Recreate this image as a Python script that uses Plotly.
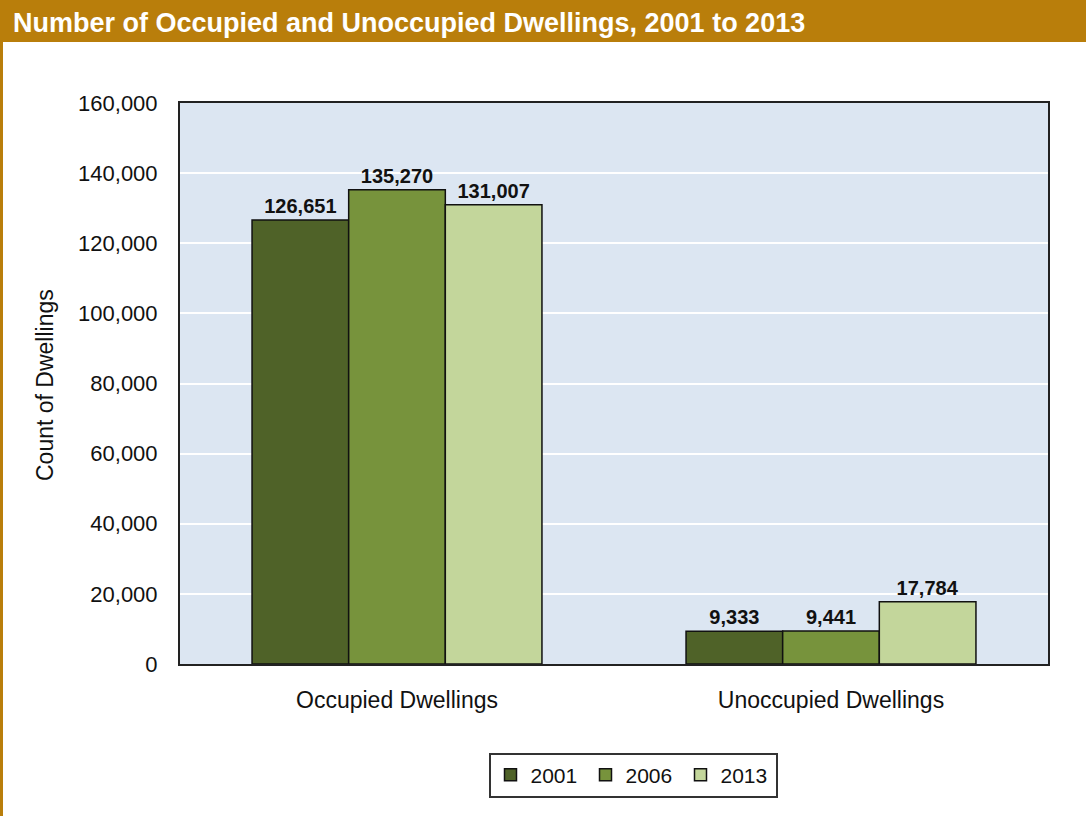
import plotly.graph_objects as go

categories = ["Occupied Dwellings", "Unoccupied Dwellings"]
years = ["2001", "2006", "2013"]
values_2001 = [126651, 9333]
values_2006 = [135270, 9441]
values_2013 = [131007, 17784]
colors = ["#4F6228", "#77933C", "#C3D69B"]
y_ticks = [0, 20000, 40000, 60000, 80000, 100000, 120000, 140000, 160000]

series = [values_2001, values_2006, values_2013]

FONT = "Liberation Sans, Arial, sans-serif"
TXT = "#111111"

fig = go.Figure()
for yr, vals, col in zip(years, series, colors):
    fig.add_trace(go.Bar(
        x=categories, y=vals, name=yr,
        marker=dict(color=col, line=dict(color="#111111", width=1.5)),
        text=[f"{v:,}" for v in vals], textposition="outside",
        textfont=dict(family=FONT, size=20, color=TXT, weight="bold"),
        cliponaxis=False, hoverinfo="skip",
    ))

# pixel -> paper helpers
L, R, T, B = 180, 1048, 103, 664
W, H = R - L, B - T
def px(x):
    return (x - L) / W
def py(y):
    return (B - y) / H

fig.update_layout(
    width=1086, height=816,
    margin=dict(l=L, r=1086 - R, t=T, b=816 - B, autoexpand=False),
    paper_bgcolor="white",
    plot_bgcolor="#DCE6F2",
    barmode="group", bargap=0.332, bargroupgap=0,
    font=dict(family=FONT, size=22, color=TXT),
    showlegend=True,
    legend=dict(orientation="h", x=px(633), y=py(775), xanchor="center", yanchor="middle",
                bgcolor="white", bordercolor="#333333", borderwidth=2,
                font=dict(family=FONT, size=21, color=TXT),
                itemwidth=30, traceorder="normal", entrywidth=50),
    xaxis=dict(showline=True, linecolor="#222222", linewidth=2, mirror=True,
               ticks="", ticklabelstandoff=14,
               tickfont=dict(family=FONT, size=23, color=TXT)),
    yaxis=dict(range=[0, 160000], tickvals=y_ticks, ticktext=[f"{v:,}" for v in y_ticks],
               showgrid=True, gridcolor="white", gridwidth=2, zeroline=False,
               showline=True, linecolor="#222222", linewidth=2, mirror=True,
               ticks="", ticklabelstandoff=16,
               tickfont=dict(family=FONT, size=22, color=TXT)),
    shapes=[
        dict(type="rect", xref="paper", yref="paper", x0=px(0), x1=px(1086), y0=py(42), y1=py(0),
             fillcolor="#B97E0B", line=dict(width=0), layer="above"),
        dict(type="rect", xref="paper", yref="paper", x0=px(0), x1=px(3), y0=py(816), y1=py(0),
             fillcolor="#B97E0B", line=dict(width=0), layer="above"),
    ],
    annotations=[
        dict(text="Number of Occupied and Unoccupied Dwellings, 2001 to 2013",
             xref="paper", yref="paper", x=px(11), y=py(23), xanchor="left", yanchor="middle",
             showarrow=False, font=dict(family=FONT, size=27, color="white", weight="bold")),
        dict(text="Count of Dwellings", xref="paper", yref="paper", x=px(45), y=py(385),
             xanchor="center", yanchor="middle", textangle=-90, showarrow=False,
             font=dict(family=FONT, size=23, color=TXT)),
    ],
)

fig.write_html("out.html", config={"displayModeBar": False},
               post_script="document.body.style.margin='0';")
